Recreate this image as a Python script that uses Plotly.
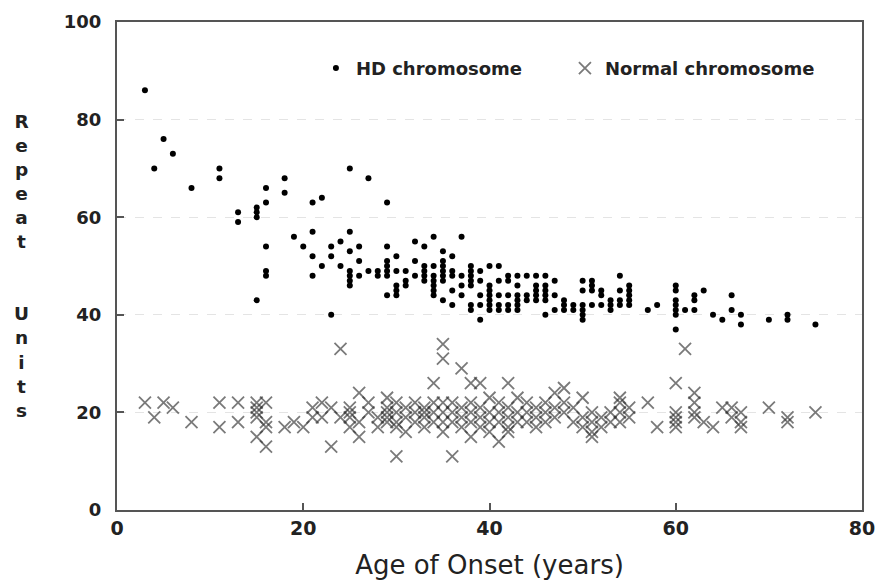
import plotly.graph_objects as go

# HD chromosome: age of onset -> repeat units
hd_x = ([3, 4, 5, 6, 8] + [11]*2 + [13]*2 + [15]*4 + [16]*5 + [18]*2 + [19, 20] + [21]*4 + [22]*2 + [23]*3 + [24]*2
        + [25]*7 + [26]*3 + [27]*2 + [28]*2 + [29]*7 + [30]*5 + [31]*3 + [32]*3 + [33]*5 + [34]*7 + [35]*7
        + [36]*5 + [37]*4 + [38]*7 + [39]*5 + [40]*7 + [41]*5 + [42]*5 + [43]*6 + [44]*3 + [45]*5 + [46]*6
        + [47]*3 + [48]*3 + [49]*2 + [50]*6 + [51]*4 + [52]*3 + [53]*3 + [54]*4 + [55]*5 + [57, 58] + [60]*7
        + [61] + [62]*3 + [63, 64, 65] + [66]*2 + [67]*2 + [70] + [72]*2 + [75])
hd_y = ([86, 70, 76, 73, 66] + [70, 68] + [61, 59] + [62, 61, 60, 43] + [66, 63, 54, 49, 48] + [68, 65] + [56, 54]
        + [63, 57, 52, 48] + [64, 50] + [54, 52, 40] + [55, 50]
        + [70, 57, 53, 49, 48, 47, 46] + [54, 51, 48] + [68, 49] + [49, 48] + [63, 54, 51, 50, 49, 48, 44]
        + [52, 49, 46, 45, 44] + [49, 47, 46] + [55, 51, 48] + [54, 50, 49, 48, 47] + [56, 50, 48, 47, 46, 45, 44]
        + [53, 51, 50, 49, 48, 47, 43] + [52, 49, 48, 45, 42] + [56, 48, 46, 44] + [50, 49, 48, 47, 46, 42, 41]
        + [49, 47, 44, 42, 39] + [50, 46, 45, 44, 43, 42, 41] + [50, 47, 44, 42, 41] + [48, 47, 44, 42, 41]
        + [48, 46, 44, 43, 42, 41] + [48, 44, 43] + [48, 46, 45, 44, 43] + [48, 46, 45, 44, 43, 40]
        + [47, 44, 41] + [43, 42, 41] + [42, 41] + [47, 45, 42, 41, 40, 39] + [47, 46, 45, 42] + [45, 44, 42]
        + [43, 42, 41] + [48, 45, 43, 42] + [46, 45, 44, 43, 42] + [41, 42] + [46, 45, 43, 42, 41, 40, 37]
        + [41] + [44, 43, 41] + [45, 40, 39] + [44, 41] + [40, 38] + [39] + [40, 39] + [38])

# Normal chromosome
nm_x = ([3, 4, 5, 6, 8] + [11]*2 + [13]*2 + [15]*5 + [16]*4 + [18, 19, 20] + [21]*2 + [22]*2 + [23]*2 + [24]*2
        + [25]*4 + [26]*3 + [27]*2 + [28]*2 + [29]*5 + [30]*5 + [31]*3 + [32]*3 + [33]*4 + [34]*4 + [35]*6
        + [36]*4 + [37]*4 + [38]*5 + [39]*4 + [40]*4 + [41]*4 + [42]*5 + [43]*3 + [44]*3 + [45]*3 + [46]*3
        + [47]*3 + [48]*3 + [49]*2 + [50]*3 + [51]*4 + [52]*2 + [53]*2 + [54]*4 + [55]*2 + [57, 58] + [60]*5
        + [61] + [62]*4 + [63, 64, 65] + [66]*2 + [67]*3 + [70] + [72]*2 + [75])
nm_y = ([22, 19, 22, 21, 18] + [22, 17] + [22, 18] + [22, 21, 20, 19, 15] + [22, 18, 17, 13] + [17, 18, 17]
        + [21, 19] + [22, 19] + [21, 13] + [33, 19] + [21, 20, 19, 17] + [24, 18, 15] + [20, 22] + [19, 17]
        + [23, 21, 20, 19, 18] + [22, 20, 18, 17, 11] + [21, 19, 16] + [22, 20, 18] + [21, 19, 17, 20]
        + [26, 22, 20, 18] + [34, 31, 22, 20, 18, 16] + [22, 20, 18, 11] + [29, 21, 19, 17] + [26, 22, 20, 18, 15]
        + [26, 21, 19, 17] + [23, 20, 18, 16] + [22, 20, 18, 14] + [26, 21, 19, 17, 16] + [23, 20, 18]
        + [22, 20, 18] + [21, 19, 17] + [22, 20, 18] + [24, 21, 19] + [25, 22, 20] + [21, 18] + [23, 19, 17]
        + [20, 18, 16, 15] + [19, 17] + [20, 18] + [23, 22, 20, 18] + [21, 19] + [22, 17] + [26, 20, 19, 18, 17]
        + [33] + [24, 22, 20, 19] + [18, 17, 21] + [21, 19] + [20, 18, 17] + [21] + [19, 18] + [20])

x_ticks = [0, 20, 40, 60, 80]
y_ticks = [0, 20, 40, 60, 80, 100]
y_title_letters = ["R", "e", "p", "e", "a", "t", "", "", "U", "n", "i", "t", "s"]

FONT_B = "DejaVu Sans"
AX = "#555555"

fig = go.Figure()
fig.add_trace(go.Scatter(
    x=hd_x, y=hd_y, mode="markers", name="<b>HD chromosome</b>",
    marker=dict(symbol="circle", size=6, color="black", line=dict(width=0)),
))
fig.add_trace(go.Scatter(
    x=nm_x, y=nm_y, mode="markers", name="<b>Normal chromosome</b>",
    marker=dict(symbol="x-thin", size=12, color="rgba(50,50,50,0.65)",
                line=dict(width=1.8, color="rgba(50,50,50,0.65)")),
))

fig.update_layout(
    width=887, height=580,
    margin=dict(l=117, r=25, t=22, b=70),
    paper_bgcolor="white", plot_bgcolor="white",
    showlegend=True,
    legend=dict(orientation="h", x=0.267, y=0.905, xanchor="left", yanchor="middle",
                font=dict(family=FONT_B, size=18, color="#222"),
                bgcolor="rgba(0,0,0,0)", entrywidth=204, entrywidthmode="pixels"),
    font=dict(family=FONT_B, color="#222"),
)
fig.update_xaxes(
    range=[0, 80], tickvals=x_ticks, ticktext=[f"<b>{t}</b>" for t in x_ticks],
    showline=True, mirror=True, linecolor=AX, linewidth=2,
    ticks="inside", ticklen=7, tickcolor=AX, tickwidth=1.5,
    showgrid=False, zeroline=False, automargin=False,
    tickfont=dict(family=FONT_B, size=19, color="#222"),
    title=dict(text="Age of Onset (years)", font=dict(family="DejaVu Sans", size=26, color="#222"), standoff=18),
)
fig.update_yaxes(
    range=[0, 100], tickvals=y_ticks, ticktext=[f"<b>{t}</b>" for t in y_ticks],
    showline=True, mirror=True, linecolor=AX, linewidth=2,
    ticks="inside", ticklen=7, tickcolor=AX, tickwidth=1.5,
    showgrid=True, gridcolor="#e4e4e4", griddash="dash", gridwidth=1,
    zeroline=False, ticklabelstandoff=10, automargin=False,
    tickfont=dict(family=FONT_B, size=18, color="#222"),
)
fig.add_annotation(
    xref="paper", yref="paper", x=-0.128, y=0.5, xanchor="center", yanchor="middle",
    text="<br>".join(f"<b>{c}</b>" if c else "&nbsp;" for c in y_title_letters),
    showarrow=False, font=dict(family=FONT_B, size=18.5, color="#222"), align="center",
)

fig.write_html("out.html")
